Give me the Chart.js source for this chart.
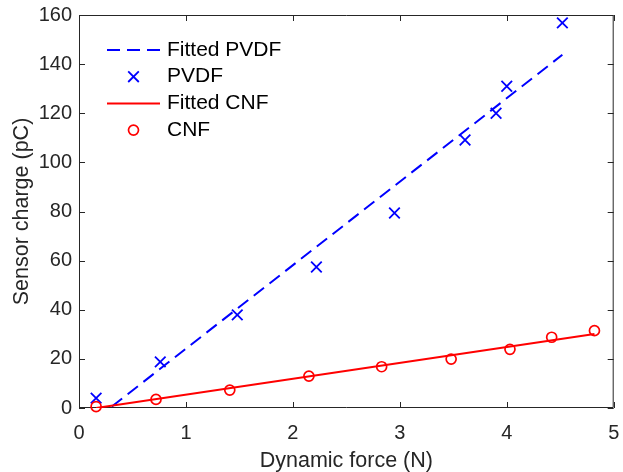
<!DOCTYPE html>
<html>
<head>
<meta charset="utf-8">
<script src="https://cdn.jsdelivr.net/npm/chart.js@4.4.1/dist/chart.umd.min.js"></script>
<style>
  html, body { margin: 0; padding: 0; background: #fff; }
  #wrap { width: 623px; height: 472px; position: relative; }
</style>
</head>
<body>
<div id="wrap"><canvas id="chart"></canvas></div>
<script>
// measured points
const pvdfForce  = [0.16, 0.76, 1.48, 2.22, 2.95, 3.61, 3.90, 4.00, 4.52];
const pvdfCharge = [4.0, 18.8, 37.9, 57.4, 79.4, 109.1, 120.0, 131.0, 156.8];
const cnfForce   = [0.16, 0.72, 1.41, 2.15, 2.83, 3.48, 4.03, 4.42, 4.82];
const cnfCharge  = [0.6, 3.5, 7.3, 13.0, 16.8, 19.9, 23.9, 28.8, 31.5];

// fitted lines (end points)
const pvdfFitForce  = [0.16, 4.52];
const pvdfFitCharge = [-4.4, 143.8];
const cnfFitForce   = [0.16, 4.82];
const cnfFitCharge  = [0.0, 30.1];

const xTicks = [0, 1, 2, 3, 4, 5];
const yTicks = [0, 20, 40, 60, 80, 100, 120, 140, 160];

const AXIS_COLOR = '#262626';
const FONT = '"Liberation Sans", Arial, Helvetica, sans-serif';

function toPoints(xs, ys) {
  return xs.map((x, i) => ({ x: x, y: ys[i] }));
}

// box around the axes with inward ticks, matlab style
const axesBox = {
  id: 'axesBox',
  beforeDatasetsDraw(chart) {
    const { ctx, chartArea: a, scales } = chart;
    const len = 6;
    ctx.save();
    ctx.strokeStyle = AXIS_COLOR;
    ctx.lineWidth = 1;
    ctx.beginPath();
    ctx.rect(a.left + 0.5, a.top + 0.5, a.right - a.left - 1, a.bottom - a.top - 1);
    xTicks.forEach(v => {
      const px = Math.round(scales.x.getPixelForValue(v)) + 0.5;
      ctx.moveTo(px, a.bottom);
      ctx.lineTo(px, a.bottom - len);
      ctx.moveTo(px, a.top);
      ctx.lineTo(px, a.top + len);
    });
    yTicks.forEach(v => {
      const py = Math.round(scales.y.getPixelForValue(v)) + 0.5;
      ctx.moveTo(a.left, py);
      ctx.lineTo(a.left + len, py);
      ctx.moveTo(a.right, py);
      ctx.lineTo(a.right - len, py);
    });
    ctx.stroke();
    ctx.restore();
  }
};

// legend inside the plot, no frame
const insideLegend = {
  id: 'insideLegend',
  afterDraw(chart) {
    const ctx = chart.ctx;
    const x0 = 107, x1 = 160, textX = 167;
    const top = 50, row = 26.7;
    ctx.save();
    ctx.font = '21px ' + FONT;
    ctx.textBaseline = 'middle';
    ctx.textAlign = 'left';
    chart.data.datasets.forEach((ds, i) => {
      const y = top + i * row;
      ctx.strokeStyle = ds.borderColor;
      if (ds.showLine) {
        ctx.lineWidth = ds.borderWidth;
        ctx.setLineDash(ds.borderDash || []);
        ctx.beginPath();
        ctx.moveTo(x0, y);
        ctx.lineTo(x1, y);
        ctx.stroke();
        ctx.setLineDash([]);
      } else {
        ctx.fillStyle = 'rgba(0,0,0,0)';
        ctx.lineWidth = ds.pointBorderWidth;
        Chart.helpers.drawPoint(ctx, {
          pointStyle: ds.pointStyle,
          radius: ds.pointRadius,
          borderWidth: ds.pointBorderWidth,
          rotation: 0
        }, (x0 + x1) / 2, y);
      }
      ctx.fillStyle = '#000';
      ctx.fillText(ds.label, textX, y);
    });
    ctx.restore();
  }
};

new Chart(document.getElementById('chart'), {
  type: 'scatter',
  data: {
    datasets: [
      {
        label: 'Fitted PVDF',
        data: toPoints(pvdfFitForce, pvdfFitCharge),
        showLine: true,
        borderColor: '#0000ff',
        borderWidth: 2,
        borderDash: [13, 7],
        pointRadius: 0,
        order: 4
      },
      {
        label: 'PVDF',
        data: toPoints(pvdfForce, pvdfCharge),
        showLine: false,
        pointStyle: 'crossRot',
        pointRadius: 7.5,
        pointBorderWidth: 1.8,
        borderColor: '#0000ff',
        backgroundColor: 'rgba(0,0,0,0)',
        clip: false,
        order: 3
      },
      {
        label: 'Fitted CNF',
        data: toPoints(cnfFitForce, cnfFitCharge),
        showLine: true,
        borderColor: '#ff0000',
        borderWidth: 2,
        pointRadius: 0,
        order: 2
      },
      {
        label: 'CNF',
        data: toPoints(cnfForce, cnfCharge),
        showLine: false,
        pointStyle: 'circle',
        pointRadius: 5,
        pointBorderWidth: 1.7,
        borderColor: '#ff0000',
        backgroundColor: 'rgba(0,0,0,0)',
        clip: false,
        order: 1
      }
    ]
  },
  options: {
    responsive: true,
    maintainAspectRatio: false,
    animation: false,
    events: [],
    layout: { padding: { left: 0, right: 7, top: 15, bottom: 0 } },
    plugins: {
      legend: { display: false },
      tooltip: { enabled: false }
    },
    scales: {
      x: {
        type: 'linear',
        min: 0,
        max: 5,
        afterBuildTicks: s => { s.ticks = xTicks.map(v => ({ value: v })); },
        afterFit: s => { s.height = 64; s.paddingLeft = 0; s.paddingRight = 0; },
        grid: { display: false, drawTicks: false },
        border: { display: false },
        ticks: {
          padding: 13,
          color: AXIS_COLOR,
          font: { family: FONT, size: 20 },
          maxRotation: 0
        },
        title: {
          display: true,
          text: 'Dynamic force (N)',
          color: AXIS_COLOR,
          font: { family: FONT, size: 21.5, lineHeight: 1 },
          padding: { top: 0, bottom: 0 }
        }
      },
      y: {
        type: 'linear',
        min: 0,
        max: 160,
        afterBuildTicks: s => { s.ticks = yTicks.map(v => ({ value: v })); },
        afterFit: s => { s.width = 79; s.paddingTop = 0; s.paddingBottom = 0; },
        grid: { display: false, drawTicks: false },
        border: { display: false },
        ticks: {
          padding: 7,
          color: AXIS_COLOR,
          font: { family: FONT, size: 20 }
        },
        title: {
          display: true,
          text: 'Sensor charge (pC)',
          color: AXIS_COLOR,
          font: { family: FONT, size: 21.5, lineHeight: 1 },
          padding: { top: 11, bottom: 0 }
        }
      }
    }
  },
  plugins: [axesBox, insideLegend]
});
</script>
</body>
</html>
